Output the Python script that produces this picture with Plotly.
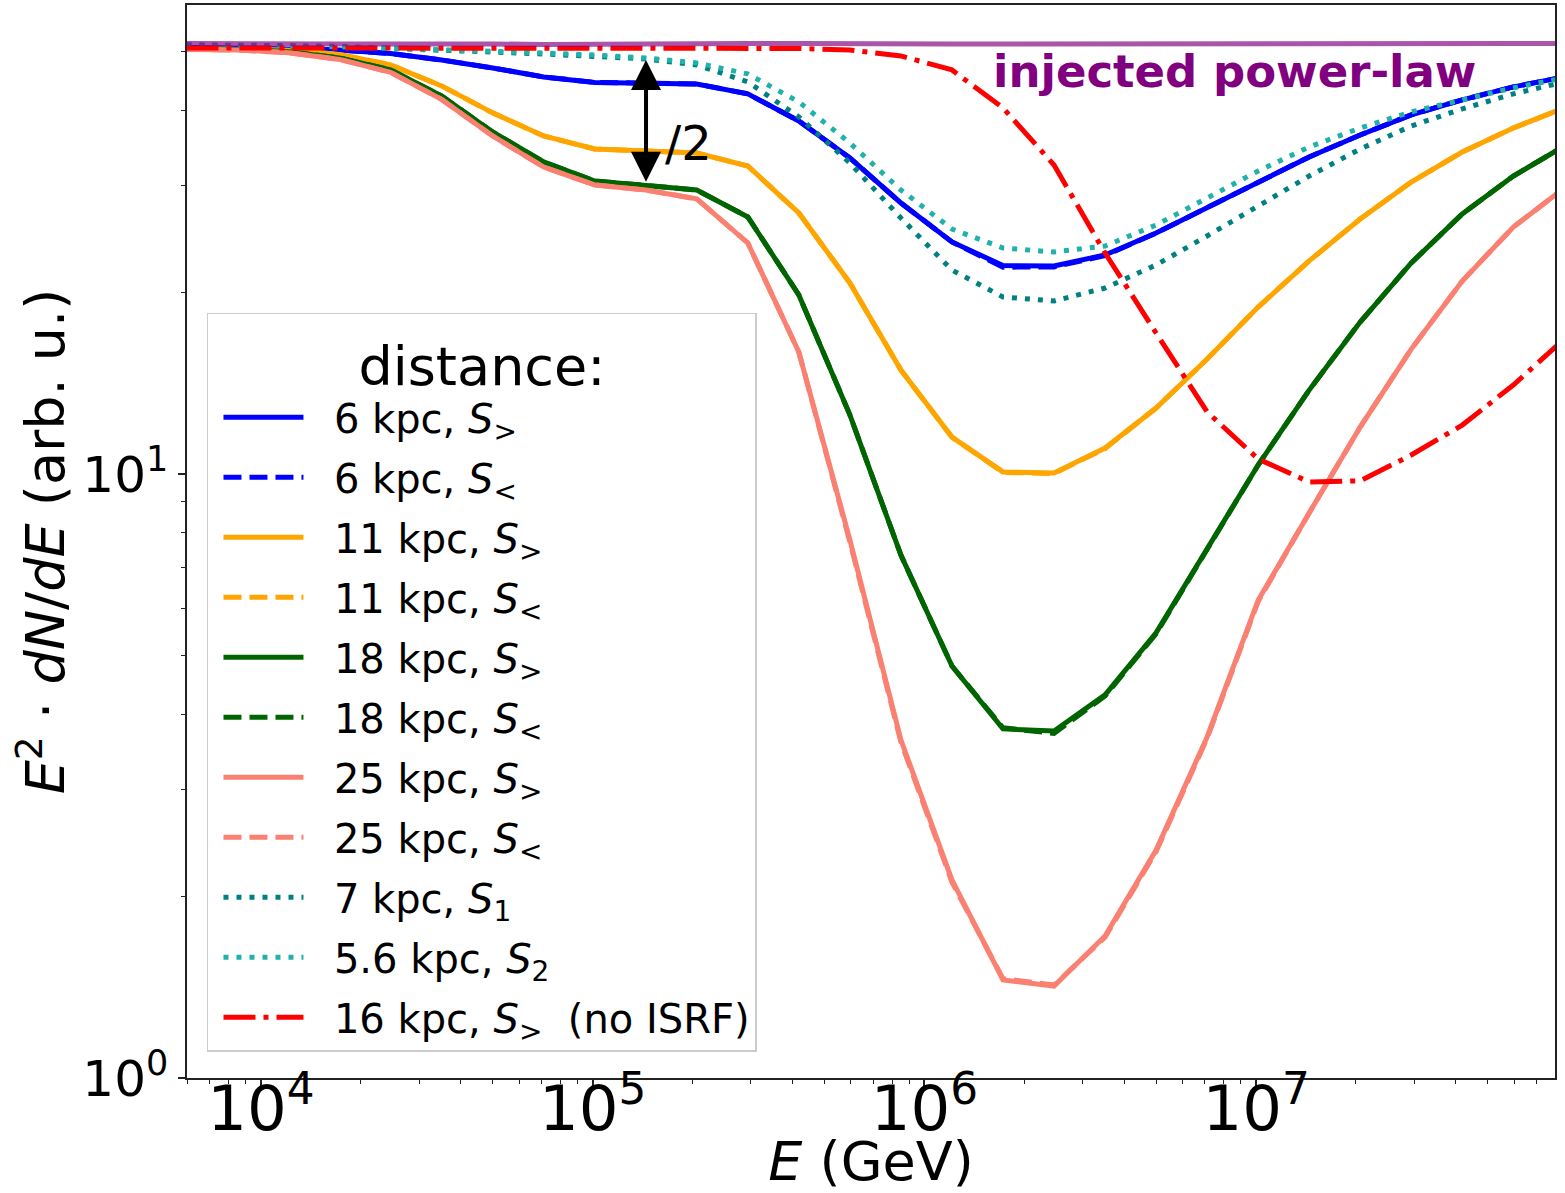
import plotly.graph_objects as go

# Energy grid (GeV)
E_GeV = [5.96e3, 8.49e3, 1.210e4, 1.725e4, 2.459e4, 3.503e4, 4.993e4, 7.115e4,
         1.014e5, 1.445e5, 2.059e5, 2.935e5, 4.182e5, 5.960e5, 8.494e5,
         1.2105e6, 1.725e6, 2.459e6, 3.504e6, 4.993e6, 7.116e6,
         1.014e7, 1.445e7, 2.059e7, 2.935e7, 4.182e7, 5.962e7, 8.494e7]

# E^2 dN/dE (arb. u.)
d6_gt = [50.84, 50.75, 50.65, 50.36, 49.69, 48.48, 47.02, 45.44, 44.50, 44.33, 44.24,
         42.59, 38.41, 33.37, 28.10, 24.22, 22.14, 22.10, 23.05, 25.06, 27.57,
         30.33, 33.49, 36.42, 39.32, 41.63, 43.74, 45.44]
d6_lt = [50.84, 50.75, 50.65, 50.36, 49.69, 48.48, 47.02, 45.44, 44.50, 44.33, 44.24,
         42.59, 38.41, 33.37, 28.10, 24.22, 22.00, 22.02, 23.00, 25.06, 27.57,
         30.33, 33.49, 36.42, 39.32, 41.63, 43.74, 45.44]
d11_gt = [50.65, 50.55, 50.30, 49.50, 47.57, 43.91, 39.62, 36.28, 34.52, 34.26, 34.00,
          32.36, 27.05, 20.72, 14.86, 11.51, 10.08, 10.04, 11.04, 12.86, 15.50,
          18.90, 22.53, 26.44, 30.44, 34.13, 37.40, 40.38]
d11_lt = [50.65, 50.55, 50.30, 49.50, 47.57, 43.91, 39.62, 36.28, 34.52, 34.26, 34.00,
          32.36, 27.05, 20.72, 14.86, 11.51, 10.06, 10.02, 11.02, 12.86, 15.50,
          18.90, 22.53, 26.44, 30.44, 34.13, 37.40, 40.38]
d18_gt = [50.55, 50.46, 50.03, 48.85, 46.67, 42.27, 36.84, 32.86, 30.56, 29.98, 29.53,
          26.64, 19.79, 12.53, 7.34, 4.81, 3.785, 3.755, 4.31, 5.46, 7.54,
          10.35, 13.77, 17.85, 22.36, 26.95, 31.14, 34.92]
d18_lt = [50.55, 50.46, 50.03, 48.85, 46.67, 42.27, 36.84, 32.86, 30.56, 29.98, 29.53,
          26.64, 19.79, 12.53, 7.34, 4.81, 3.80, 3.72, 4.29, 5.44, 7.52,
          10.35, 13.77, 17.85, 22.36, 26.95, 31.14, 34.92]
d25_gt = [50.46, 50.36, 49.84, 48.57, 46.23, 41.71, 36.28, 32.23, 30.10, 29.53, 28.54,
          24.13, 15.92, 7.78, 3.63, 2.128, 1.453, 1.420, 1.718, 2.385, 3.67,
          6.18, 8.62, 11.96, 16.10, 20.87, 25.64, 29.76]
d25_lt = [50.46, 50.36, 49.84, 48.57, 46.23, 41.71, 36.28, 32.23, 30.10, 29.53, 28.54,
          24.13, 15.92, 7.72, 3.60, 2.11, 1.46, 1.425, 1.71, 2.37, 3.65,
          6.15, 8.62, 11.96, 16.10, 20.87, 25.64, 29.76]
d7_s1 = [51.32, 51.22, 51.13, 50.94, 50.65, 50.36, 49.98, 49.60, 49.13, 48.66, 47.57,
         44.58, 39.02, 32.73, 26.54, 21.76, 19.64, 19.34, 20.32, 22.19, 24.78,
         27.78, 31.14, 34.52, 37.69, 40.22, 42.59, 44.58]
d56_s2 = [51.32, 51.32, 51.22, 51.03, 50.75, 50.46, 50.17, 49.78, 49.41, 48.85, 47.93,
          45.96, 41.31, 35.32, 29.53, 25.45, 23.67, 23.31, 23.85, 25.84, 28.64,
          31.74, 34.79, 37.40, 39.77, 41.63, 43.58, 45.27]
d16_noisrf = [50.75, 50.75, 50.75, 50.75, 50.75, 50.75, 50.75, 50.75, 50.84, 50.84, 50.84,
              50.75, 50.65, 50.36, 49.22, 46.67, 40.38, 32.48, 23.22, 17.12, 12.67,
              10.59, 9.70, 9.74, 10.75, 12.05, 14.04, 16.73]
injected = [51.62, 51.52, 51.62, 51.52, 51.52, 51.62, 51.52, 51.42, 51.52, 51.52, 51.62,
            51.62, 51.62, 51.52, 51.52, 51.52, 51.52, 51.52, 51.42, 51.52, 51.52,
            51.62, 51.62, 51.52, 51.52, 51.52, 51.62, 51.62]

SP = "&nbsp;&nbsp;"
series = [
    (SP + "6 kpc, <i>S</i><sub>&gt;</sub>", d6_gt, "#0000ff", "solid"),
    (SP + "6 kpc, <i>S</i><sub>&lt;</sub>", d6_lt, "#0000ff", "18px,8px"),
    (SP + "11 kpc, <i>S</i><sub>&gt;</sub>", d11_gt, "#ffa500", "solid"),
    (SP + "11 kpc, <i>S</i><sub>&lt;</sub>", d11_lt, "#ffa500", "18px,8px"),
    (SP + "18 kpc, <i>S</i><sub>&gt;</sub>", d18_gt, "#006400", "solid"),
    (SP + "18 kpc, <i>S</i><sub>&lt;</sub>", d18_lt, "#006400", "18px,8px"),
    (SP + "25 kpc, <i>S</i><sub>&gt;</sub>", d25_gt, "#fa8072", "solid"),
    (SP + "25 kpc, <i>S</i><sub>&lt;</sub>", d25_lt, "#fa8072", "18px,8px"),
    (SP + "7 kpc, <i>S</i><sub>1</sub>", d7_s1, "#008080", "5px,8px"),
    (SP + "5.6 kpc, <i>S</i><sub>2</sub>", d56_s2, "#20b2aa", "5px,8px"),
    (SP + "16 kpc, <i>S</i><sub>&gt;</sub>&nbsp;&nbsp;(no ISRF)", d16_noisrf, "#ff0000",
     "32px,8px,5px,8px"),
]

FONT = "DejaVu Sans"
fig = go.Figure()
for i, (name, vals, color, dash) in enumerate(series):
    fig.add_trace(go.Scatter(
        x=E_GeV, y=vals, mode="lines", name=name, legendgroup="g%d" % i,
        line=dict(color=color, width=5, dash=dash)))

fig.add_trace(go.Scatter(
    x=E_GeV, y=injected, mode="lines", showlegend=False,
    line=dict(color="rgba(128,0,128,0.67)", width=5)))

fig.add_annotation(x=6.936, y=1.666, xref="x", yref="y", text="<b>injected power-law</b>",
                   showarrow=False, font=dict(family=FONT, size=45, color="#800080"))
fig.add_annotation(x=5.1607, y=1.6854, ax=5.1607, ay=1.4813, xref="x", yref="y",
                   axref="x", ayref="y", text="", showarrow=True, arrowhead=2,
                   arrowside="end+start", arrowsize=1.5, arrowwidth=4, arrowcolor="black",
                   standoff=0, startstandoff=0)
fig.add_annotation(x=5.2873, y=1.548, xref="x", yref="y", text="/2", showarrow=False,
                   font=dict(family=FONT, size=48, color="black"))

axis_common = dict(
    showline=True, linecolor="#222222", linewidth=1.5, mirror=True,
    ticks="outside", ticklen=7, tickwidth=1.5, tickcolor="#222222",
    showgrid=False, zeroline=False, automargin=False,
    tickfont=dict(family=FONT, size=50, color="black"),
    minor=dict(ticks="outside", ticklen=4, tickwidth=1.2, tickcolor="#222222",
               dtick="D1", showgrid=False),
)
fig.update_xaxes(type="log", range=[3.7769, 7.901], dtick=1, exponentformat="power",
                 ticklabelstandoff=-29,
                 title=dict(text="<i>E</i> (GeV)", font=dict(family=FONT, size=54, color="black"),
                            standoff=0),
                 **axis_common)
fig.update_yaxes(type="log", range=[0, 1.7765], tickvals=[1, 10],
                 ticktext=["10<sup>0</sup>", "10<sup>1</sup>"],
                 title=dict(text="<i>E</i><sup>2</sup> · <i>dN</i>/<i>dE</i> (arb. u.)",
                            font=dict(family=FONT, size=54, color="black"), standoff=0),
                 **axis_common)

fig.update_layout(
    width=1565, height=1193,
    margin=dict(l=187, r=10, t=5, b=115, autoexpand=False),
    plot_bgcolor="white", paper_bgcolor="white",
    font=dict(family=FONT, color="black"),
    legend=dict(x=0.0146, y=0.7130, xanchor="left", yanchor="top",
                bgcolor="rgba(255,255,255,0.8)", bordercolor="#cccccc", borderwidth=1.5,
                font=dict(family=FONT, size=40, color="black"),
                title=dict(text="distance:", side="top center",
                           font=dict(family=FONT, size=54, color="black")),
                traceorder="grouped", tracegroupgap=5, itemwidth=80, indentation=10),
)

fig.write_html("out.html")
